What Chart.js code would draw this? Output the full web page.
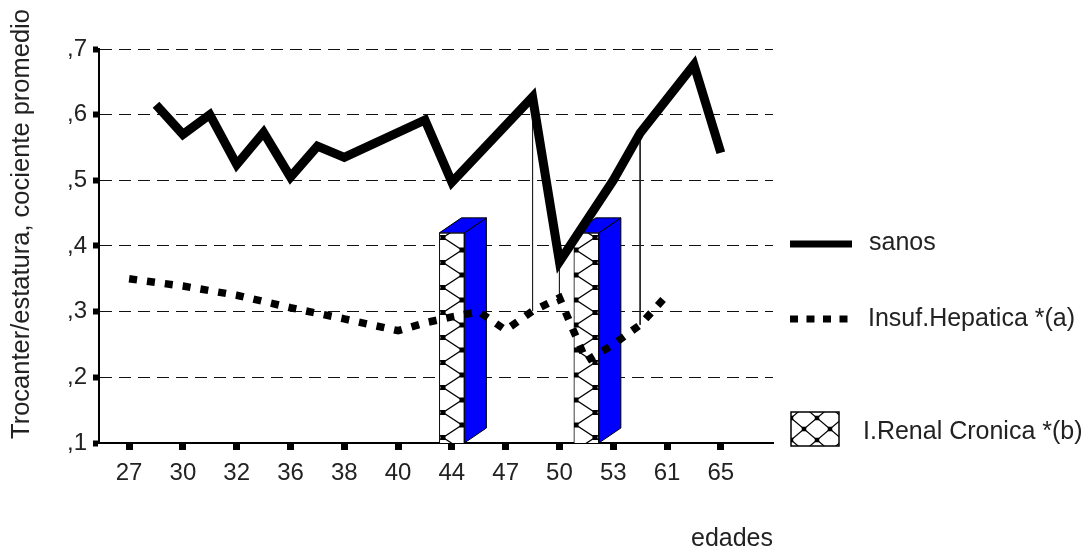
<!DOCTYPE html>
<html lang="es">
<head>
<meta charset="UTF-8">
<title>Trocanter/estatura por edades</title>
<script src="https://cdn.jsdelivr.net/npm/chart.js@4"></script>
<style>
    html, body { margin: 0; padding: 0; background: #fff; }
    #wrap { width: 1083px; height: 551px; }
</style>
</head>
<body>
<div id="wrap"><canvas id="chart" width="1083" height="551"></canvas></div>
<script>
// datos (posicion = indice de la categoria, con medios pasos)
const edades = ['27', '30', '32', '36', '38', '40', '44', '47', '50', '53', '61', '65'];
const sanosPos = [0.5, 1, 1.5, 2, 2.5, 3, 3.5, 4, 5.5, 6, 7.5, 8, 9, 9.5, 10.5, 11];
const sanos = [0.615, 0.570, 0.600, 0.524, 0.573, 0.505, 0.552, 0.535, 0.592, 0.497, 0.627, 0.376, 0.500, 0.572, 0.676, 0.542];
const hepaticaPos = [0, 1, 2, 3, 4, 5, 5.5, 6, 6.5, 7, 7.5, 8, 8.5, 9, 9.5, 10];
const hepatica = [0.350, 0.339, 0.325, 0.306, 0.289, 0.271, 0.283, 0.292, 0.300, 0.272, 0.301, 0.321, 0.225, 0.250, 0.280, 0.325];
const renalPos = [6, 8.5];
const renal = [0.42, 0.42];
const hiloPos = [7.5, 8, 9.5];
const yTicks = [0.1, 0.2, 0.3, 0.4, 0.5, 0.6, 0.7];

const FONT = '"Liberation Sans", Arial, sans-serif';
Chart.defaults.font.family = FONT;
Chart.defaults.color = '#222';

const canvas = document.getElementById('chart');
const ctx = canvas.getContext('2d');

// trama en cruz (rombos con cuadritos en los cruces)
function makeHatch(w, h, offX, sq) {
    const c = document.createElement('canvas');
    c.width = w;
    c.height = h;
    const g = c.getContext('2d');
    g.fillStyle = '#fff';
    g.fillRect(0, 0, w, h);
    g.strokeStyle = '#000';
    g.lineWidth = 1.3;
    g.beginPath();
    g.moveTo(0, 0); g.lineTo(w, h);
    g.moveTo(w, 0); g.lineTo(0, h);
    g.stroke();
    g.fillStyle = '#000';
    [[w / 2, h / 2], [0, 0], [w, 0], [0, h], [w, h]].forEach(p => g.fillRect(p[0] - sq / 2, p[1] - sq / 2, sq, sq));
    const pat = ctx.createPattern(c, 'repeat');
    pat.setTransform(new DOMMatrix().translate(offX, 0));
    return pat;
}
const hatch = makeHatch(38, 25, 6, 5);
const hatchLegend = makeHatch(26, 22, 791, 4.5);

const toPts = (xs, ys) => xs.map((x, i) => ({x: x, y: ys[i]}));
const valueAt = (xs, ys, x) => ys[xs.indexOf(x)];

// lineas verticales entre sanos e insuf. hepatica
const hilo = [];
hiloPos.forEach(x => {
    hilo.push({x: x, y: valueAt(sanosPos, sanos, x)});
    hilo.push({x: x, y: valueAt(hepaticaPos, hepatica, x)});
    hilo.push({x: x, y: null});
});

// caras laterales de las barras (efecto 3D)
const bar3d = {
    id: 'bar3d',
    afterDatasetDraw(chart, args) {
        if (chart.data.datasets[args.index].type !== 'bar') return;
        const c = chart.ctx;
        const area = chart.chartArea;
        const dx = 22, dy = -15;
        args.meta.data.forEach(bar => {
            const left = bar.x - bar.width / 2;
            const right = bar.x + bar.width / 2;
            const top = bar.y;
            const bottom = Math.min(bar.base, area.bottom);
            c.save();
            c.fillStyle = '#0000ff';
            c.strokeStyle = '#000';
            c.lineWidth = 1;
            c.beginPath();
            c.moveTo(right, top);
            c.lineTo(right + dx, top + dy);
            c.lineTo(right + dx, bottom + dy);
            c.lineTo(right, bottom);
            c.closePath();
            c.fill();
            c.stroke();
            c.beginPath();
            c.moveTo(left, top);
            c.lineTo(left + dx, top + dy);
            c.lineTo(right + dx, top + dy);
            c.lineTo(right, top);
            c.closePath();
            c.fill();
            c.stroke();
            c.restore();
        });
    }
};

// leyenda a la derecha y titulo vertical
const sideText = {
    id: 'sideText',
    afterDraw(chart) {
        const c = chart.ctx;
        c.save();
        c.fillStyle = '#222';
        c.font = '25px ' + FONT;
        c.textBaseline = 'middle';
        c.textAlign = 'left';

        c.strokeStyle = '#000';
        c.lineWidth = 7;
        c.beginPath();
        c.moveTo(790, 244);
        c.lineTo(852, 244);
        c.stroke();
        c.fillText('sanos', 869, 243);

        c.setLineDash([8, 8.5]);
        c.beginPath();
        c.moveTo(790, 319);
        c.lineTo(853, 319);
        c.stroke();
        c.setLineDash([]);
        c.fillText('Insuf.Hepatica *(a)', 868, 319);

        c.fillStyle = hatchLegend;
        c.fillRect(791, 412, 48, 34);
        c.lineWidth = 1.5;
        c.strokeRect(791, 412, 48, 34);
        c.fillStyle = '#222';
        c.fillText('I.Renal Cronica *(b)', 863, 432);

        c.font = '25.5px ' + FONT;
        c.translate(22, 224);
        c.rotate(-Math.PI / 2);
        c.textAlign = 'center';
        c.fillText('Trocanter/estatura, cociente promedio', 0, 0);
        c.restore();
    }
};

new Chart(ctx, {
    type: 'line',
    data: {
        datasets: [
            {
                label: 'sanos',
                data: toPts(sanosPos, sanos),
                borderColor: '#000',
                borderWidth: 9,
                borderJoinStyle: 'miter',
                pointRadius: 0,
                tension: 0,
                order: 1
            },
            {
                label: 'Insuf.Hepatica *(a)',
                data: toPts(hepaticaPos, hepatica),
                borderColor: '#000',
                borderWidth: 7.5,
                borderDash: [8, 10],
                pointRadius: 0,
                tension: 0,
                order: 1
            },
            {
                label: 'hilo',
                data: hilo,
                borderColor: '#222',
                borderWidth: 1,
                pointRadius: 0,
                spanGaps: false,
                order: 2
            },
            {
                type: 'bar',
                label: 'I.Renal Cronica *(b)',
                data: toPts(renalPos, renal),
                backgroundColor: hatch,
                borderColor: '#000',
                borderWidth: 1,
                barThickness: 25,
                order: 3
            }
        ]
    },
    options: {
        responsive: false,
        animation: false,
        layout: {padding: {left: 40, top: 49, right: 310, bottom: 0}},
        plugins: {legend: {display: false}, tooltip: {enabled: false}},
        scales: {
            x: {
                type: 'linear',
                min: -0.56,
                max: 11.97,
                offset: false,
                afterBuildTicks: s => { s.ticks = edades.map((e, i) => ({value: i})); },
                afterFit: s => { s.height = 108; },
                ticks: {
                    callback: (v, i) => edades[i],
                    font: {size: 24},
                    padding: 9,
                    maxRotation: 0,
                    autoSkip: false
                },
                grid: {
                    offset: false,
                    drawOnChartArea: false,
                    tickLength: 7,
                    tickWidth: 7,
                    tickColor: '#000'
                },
                border: {display: true, color: '#000', width: 2},
                title: {
                    display: true,
                    text: 'edades',
                    align: 'end',
                    font: {size: 25, lineHeight: 1},
                    padding: {top: 0, bottom: -1}
                }
            },
            y: {
                min: 0.1,
                max: 0.7,
                afterBuildTicks: s => { s.ticks = yTicks.map(v => ({value: v})); },
                afterFit: s => { s.width = 59; },
                ticks: {
                    callback: v => ',' + Math.round(v * 10),
                    font: {size: 24},
                    padding: 6
                },
                grid: {
                    color: '#111',
                    lineWidth: 1,
                    tickLength: 6,
                    tickWidth: 6,
                    tickColor: '#000'
                },
                border: {display: true, color: '#000', width: 2, dash: [12, 7]}
            }
        }
    },
    plugins: [bar3d, sideText]
});
</script>
</body>
</html>
